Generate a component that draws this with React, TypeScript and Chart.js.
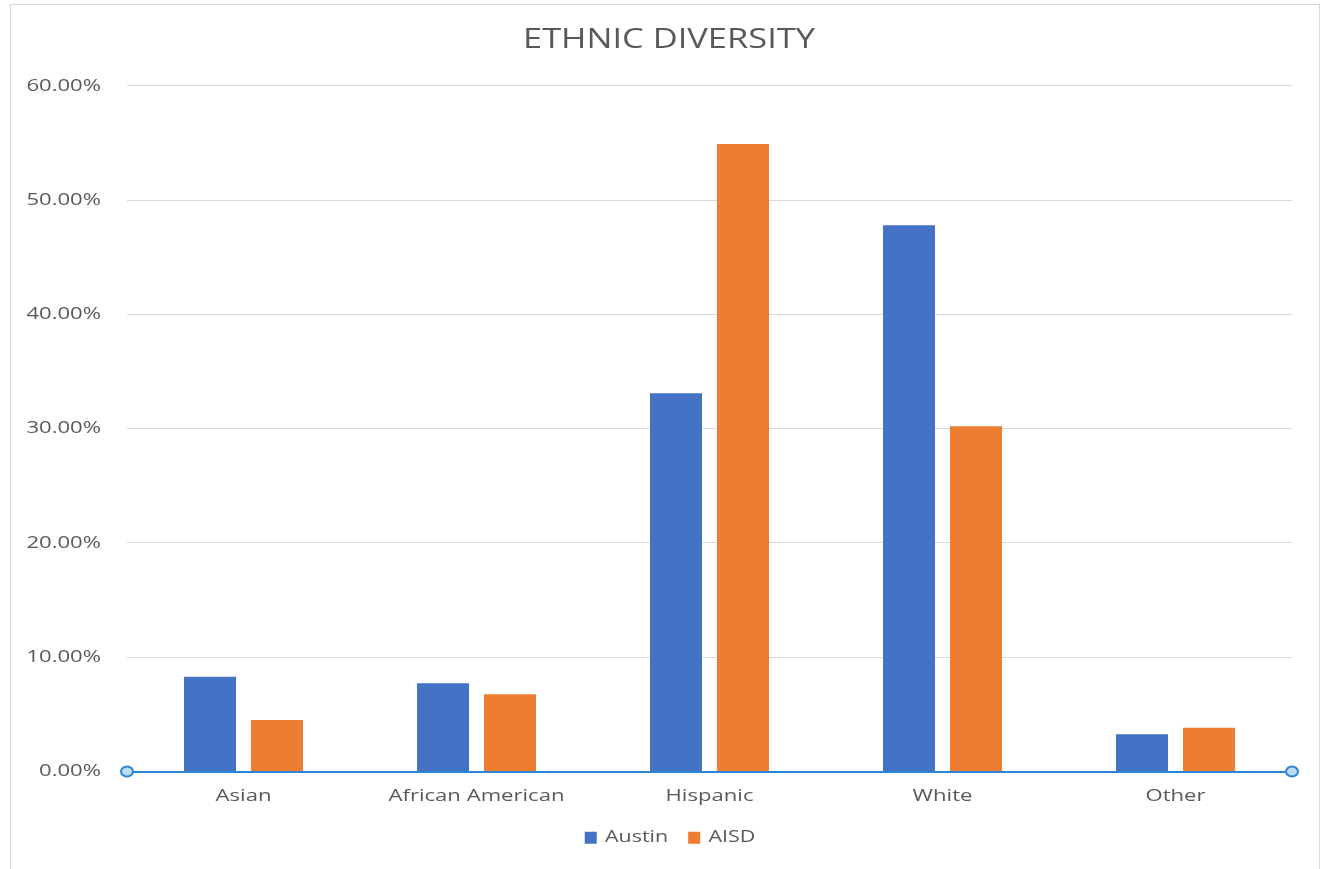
import React, { useEffect, useRef } from "react";
import { Chart, registerables } from "chart.js";

Chart.register(...registerables);

const categories = ["Asian", "African American", "Hispanic", "White", "Other"];
const austinValues = [8.28, 7.73, 33.1, 47.8, 3.25];
const aisdValues = [4.5, 6.77, 54.9, 30.2, 3.83];
const seriesNames = ["Austin", "AISD"];
const yTicksMax = 60;
const yTickStep = 10;
const titleText = "ETHNIC DIVERSITY";

const FONT = "'Open Sans', 'Noto Sans', sans-serif";
const GRAY = "#595959";
const SX = 1.3; // the reference's text is horizontally stretched

function shiftBlock(chart: any, block: any, dx: number) {
  if (block && !block.__wrapped) {
    const orig = block.draw.bind(block);
    block.draw = (...args: any[]) => {
      const ctx = chart.ctx;
      ctx.save();
      ctx.translate(dx, 0);
      orig(...args);
      ctx.restore();
    };
    block.__wrapped = true;
  }
}

const stretchTextPlugin = {
  id: "stretchText",
  beforeInit(chart: any) {
    const ctx = chart.ctx;
    if (ctx.__stretched) return;
    const origFill = ctx.fillText.bind(ctx);
    const origMeasure = ctx.measureText.bind(ctx);
    ctx.fillText = (t: string, x: number, y: number, mw?: number) => {
      ctx.save();
      ctx.translate(x, y);
      ctx.scale(SX, 1);
      if (mw === undefined) origFill(t, 0, 0);
      else origFill(t, 0, 0, mw / SX);
      ctx.restore();
    };
    ctx.measureText = (t: string) => {
      const m = origMeasure(t);
      return {
        width: m.width * SX,
        actualBoundingBoxAscent: m.actualBoundingBoxAscent,
        actualBoundingBoxDescent: m.actualBoundingBoxDescent,
        actualBoundingBoxLeft: m.actualBoundingBoxLeft * SX,
        actualBoundingBoxRight: m.actualBoundingBoxRight * SX,
        fontBoundingBoxAscent: m.fontBoundingBoxAscent,
        fontBoundingBoxDescent: m.fontBoundingBoxDescent,
      };
    };
    ctx.__stretched = true;
  },
  afterLayout(chart: any) {
    shiftBlock(chart, chart.titleBlock, 23);
    shiftBlock(chart, chart.legend, 24);
  },
};

const framePlugin = {
  id: "frame",
  beforeDraw(chart: any) {
    const ctx = chart.ctx;
    ctx.save();
    ctx.fillStyle = "#ffffff";
    ctx.fillRect(0, 0, chart.width, chart.height);
    ctx.strokeStyle = "#d9d9d9";
    ctx.lineWidth = 1;
    ctx.strokeRect(10.5, 4.5, 1309, 900);
    ctx.restore();
  },
};

const handlesPlugin = {
  id: "handles",
  afterDraw(chart: any) {
    const ctx = chart.ctx;
    const y0 = chart.scales.y.getPixelForValue(0);
    const { left, right } = chart.chartArea;
    ctx.save();
    [left, right].forEach((x: number) => {
      ctx.beginPath();
      ctx.ellipse(x, y0, 6, 5, 0, 0, Math.PI * 2);
      ctx.fillStyle = "#bcdcf5";
      ctx.fill();
      ctx.lineWidth = 2;
      ctx.strokeStyle = "#2a84d8";
      ctx.stroke();
    });
    ctx.restore();
  },
};

export default function App() {
  const ref = useRef<HTMLCanvasElement>(null);
  useEffect(() => {
    document.body.style.margin = "0";
    const chart = new Chart(ref.current!, {
      type: "bar",
      data: {
        labels: categories,
        datasets: [
          {
            label: seriesNames[0],
            data: austinValues,
            backgroundColor: "#4472c4",
            categoryPercentage: 0.575,
            barPercentage: 0.776,
          },
          {
            label: seriesNames[1],
            data: aisdValues,
            backgroundColor: "#ed7d31",
            categoryPercentage: 0.575,
            barPercentage: 0.776,
          },
        ],
      },
      options: {
        responsive: false,
        animation: false,
        layout: { padding: { left: 0, right: 32, top: 0, bottom: 13 } },
        plugins: {
          title: {
            display: true,
            text: titleText,
            color: GRAY,
            font: { family: FONT, size: 26.5, weight: "normal" },
            padding: { top: 25, bottom: 29 },
          },
          legend: {
            position: "bottom",
            labels: {
              color: GRAY,
              font: { family: FONT, size: 16.5 },
              boxWidth: 12,
              boxHeight: 12,
              padding: 20,
            },
          },
          tooltip: { enabled: false },
        },
        scales: {
          x: {
            afterFit(scale: any) {
              scale.height = 38;
            },
            grid: { display: false },
            border: { display: true, color: "#2a84d8", width: 2 },
            ticks: { color: GRAY, font: { family: FONT, size: 17 }, padding: 6 },
          },
          y: {
            min: 0,
            max: yTicksMax,
            afterFit(scale: any) {
              scale.width = 127;
            },
            grid: { color: "#d9d9d9", drawTicks: false },
            border: { display: false },
            ticks: {
              stepSize: yTickStep,
              padding: 26,
              color: GRAY,
              font: { family: FONT, size: 17 },
              callback: (v: any) => Number(v).toFixed(2) + "%",
            },
          },
        },
      },
      plugins: [stretchTextPlugin, framePlugin, handlesPlugin],
    });
    return () => chart.destroy();
  }, []);
  return <canvas ref={ref} width={1324} height={869} style={{ display: "block" }} />;
}
